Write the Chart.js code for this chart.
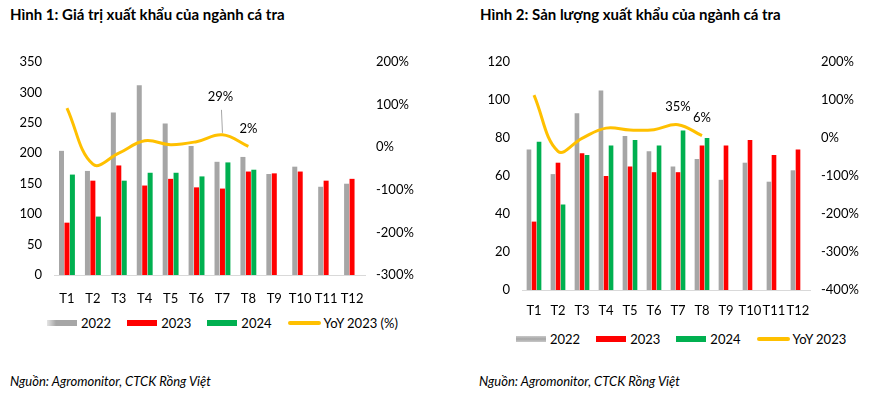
<!DOCTYPE html>
<html>
<head>
<meta charset="utf-8">
<script src="https://cdn.jsdelivr.net/npm/chart.js@4.4.1/dist/chart.umd.min.js"></script>
<style>
    body { margin: 0; width: 896px; height: 396px; background: #fff; position: relative; font-family: Lato, "Noto Sans", sans-serif; color: #000; overflow: hidden; }
    .title { position: absolute; top: 5px; font-weight: bold; font-size: 15px; white-space: nowrap; }
    .source { position: absolute; top: 373px; font-style: italic; font-size: 13px; white-space: nowrap; }
    .box { position: absolute; }
    .legend { position: absolute; display: flex; align-items: center; font-size: 13px; white-space: nowrap; }
    .legend span.sw { display: inline-block; width: 30px; height: 6px; margin-right: 4px; }
    .legend span.ln { display: inline-block; width: 33px; height: 4px; border-radius: 2px; margin-right: 3px; background: #ffc000; }
    .legend .item { display: flex; align-items: center; margin-right: 16px; }
</style>
</head>
<body>
<div class="title" style="left:10px">Hình 1: Giá trị xuất khẩu của ngành cá tra</div>
<div class="title" style="left:480px">Hình 2: Sản lượng xuất khẩu của ngành cá tra</div>

<div class="box" style="left:0px; top:30px; width:440px; height:285px;"><canvas id="valueChart"></canvas></div>
<div class="box" style="left:448px; top:30px; width:448px; height:300px;"><canvas id="volumeChart"></canvas></div>

<div class="legend" style="left:47px; top:315px;">
    <div class="item"><span class="sw" style="background:linear-gradient(to right, rgba(166,166,166,0.3), #a6a6a6 30%, #a6a6a6)"></span>2022</div>
    <div class="item"><span class="sw" style="background:#ff0000"></span>2023</div>
    <div class="item"><span class="sw" style="background:#00b050"></span>2024</div>
    <div class="item"><span class="ln"></span>YoY 2023 (%)</div>
</div>
<div class="legend" style="left:516px; top:331px;">
    <div class="item"><span class="sw" style="background:linear-gradient(to bottom, #c8c8c8, #a6a6a6 50%, #c8c8c8)"></span>2022</div>
    <div class="item"><span class="sw" style="background:#ff0000"></span>2023</div>
    <div class="item"><span class="sw" style="background:#00b050"></span>2024</div>
    <div class="item"><span class="ln"></span>YoY 2023</div>
</div>

<div class="source" style="left:10px">Nguồn: Agromonitor, CTCK Rồng Việt</div>
<div class="source" style="left:479px">Nguồn: Agromonitor, CTCK Rồng Việt</div>

<script>
const months = ["T1", "T2", "T3", "T4", "T5", "T6", "T7", "T8", "T9", "T10", "T11", "T12"];

// Hinh 1: gia tri xuat khau
const value2022 = [204, 171, 267, 312, 249, 212, 186, 194, 166, 178, 145, 150];
const value2023 = [86, 155, 180, 147, 158, 144, 142, 170, 167, 170, 155, 158];
const value2024 = [165, 96, 155, 168, 168, 162, 185, 173, null, null, null, null];
const valueYoY = [92, -40, -14, 15, 6, 13, 29, 2, null, null, null, null];

// Hinh 2: san luong xuat khau
const volume2022 = [74, 61, 93, 105, 81, 73, 65, 69, 58, 67, 57, 63];
const volume2023 = [36, 67, 72, 60, 65, 62, 62, 76, 76, 79, 71, 74];
const volume2024 = [78, 45, 71, 76, 79, 76, 84, 80, null, null, null, null];
const volumeYoY = [113, -35, -1, 26, 21, 22, 35, 6, null, null, null, null];

const FONT = "Lato, 'Noto Sans', sans-serif";

// draws the % labels above some points of the YoY line
const pointLabels = {
    id: "pointLabels",
    afterDatasetsDraw(chart, args, opts) {
        const ctx = chart.ctx;
        const meta = chart.getDatasetMeta(0);
        const data = chart.data.datasets[0].data;
        ctx.save();
        ctx.font = "13px " + FONT;
        ctx.fillStyle = "#000";
        ctx.textAlign = "center";
        ctx.textBaseline = "middle";
        (opts.items || []).forEach(function (it) {
            const pt = meta.data[it.index];
            const x = pt.x + it.dx;
            const y = pt.y + it.dy;
            if (it.leader) {
                ctx.strokeStyle = "#a6a6a6";
                ctx.lineWidth = 1;
                ctx.beginPath();
                ctx.moveTo(x + 1, y + 13);
                ctx.lineTo(pt.x, pt.y - 2);
                ctx.stroke();
            }
            ctx.fillText(Math.round(data[it.index]) + "%", x, y);
        });
        ctx.restore();
    }
};

function makeChart(id, cfg) {
    const ctx = document.getElementById(id).getContext("2d");
    return new Chart(ctx, {
        type: "bar",
        data: {
            labels: months,
            datasets: [
                {
                    type: "line",
                    label: "YoY 2023",
                    data: cfg.yoy,
                    yAxisID: "y1",
                    borderColor: "#ffc000",
                    backgroundColor: "#ffc000",
                    borderWidth: 3,
                    pointRadius: 0,
                    tension: 0.4,
                    order: 0
                },
                { label: "2022", data: cfg.a, backgroundColor: "#a6a6a6", order: 1 },
                { label: "2023", data: cfg.b, backgroundColor: "#ff0000", order: 1 },
                { label: "2024", data: cfg.c, backgroundColor: "#00b050", order: 1 }
            ]
        },
        options: {
            responsive: true,
            maintainAspectRatio: false,
            animation: false,
            categoryPercentage: 0.63,
            barPercentage: 0.92,
            layout: { padding: { top: 32, bottom: 0, left: 0, right: 0 } },
            plugins: {
                legend: { display: false },
                tooltip: { enabled: false },
                pointLabels: { items: cfg.labels }
            },
            scales: {
                x: {
                    grid: { display: false, drawTicks: false },
                    border: { display: true, color: "#d9d9d9", width: 1 },
                    ticks: { color: "#000", font: { family: FONT, size: 13 }, padding: cfg.xPad, maxRotation: 0, autoSkip: false },
                    afterFit: function (s) { s.height = 40; }
                },
                y: {
                    position: "left",
                    min: 0,
                    max: cfg.max,
                    grid: { display: false, drawTicks: false },
                    border: { display: false },
                    ticks: { stepSize: cfg.step, color: "#000", font: { family: FONT, size: 13 }, padding: 12 },
                    afterFit: function (s) { s.width = cfg.leftW; }
                },
                y1: {
                    position: "right",
                    min: cfg.pMin,
                    max: 200,
                    grid: { display: false, drawTicks: false },
                    border: { display: false },
                    ticks: {
                        stepSize: 100,
                        color: "#000",
                        font: { family: FONT, size: 13 },
                        padding: 11,
                        callback: function (v) { return v + "%"; }
                    },
                    afterFit: function (s) { s.width = cfg.rightW; }
                }
            }
        },
        plugins: [pointLabels]
    });
}

makeChart("valueChart", {
    a: value2022, b: value2023, c: value2024, yoy: valueYoY,
    max: 350, step: 50, pMin: -300, leftW: 54, rightW: 75, xPad: 16,
    labels: [
        { index: 6, dx: -2, dy: -38, leader: true },
        { index: 7, dx: 0, dy: -18 }
    ]
});

makeChart("volumeChart", {
    a: volume2022, b: volume2023, c: volume2024, yoy: volumeYoY,
    max: 120, step: 20, pMin: -400, leftW: 74, rightW: 86, xPad: 13,
    labels: [
        { index: 6, dx: 0, dy: -18 },
        { index: 7, dx: 0, dy: -18 }
    ]
});
</script>
</body>
</html>
